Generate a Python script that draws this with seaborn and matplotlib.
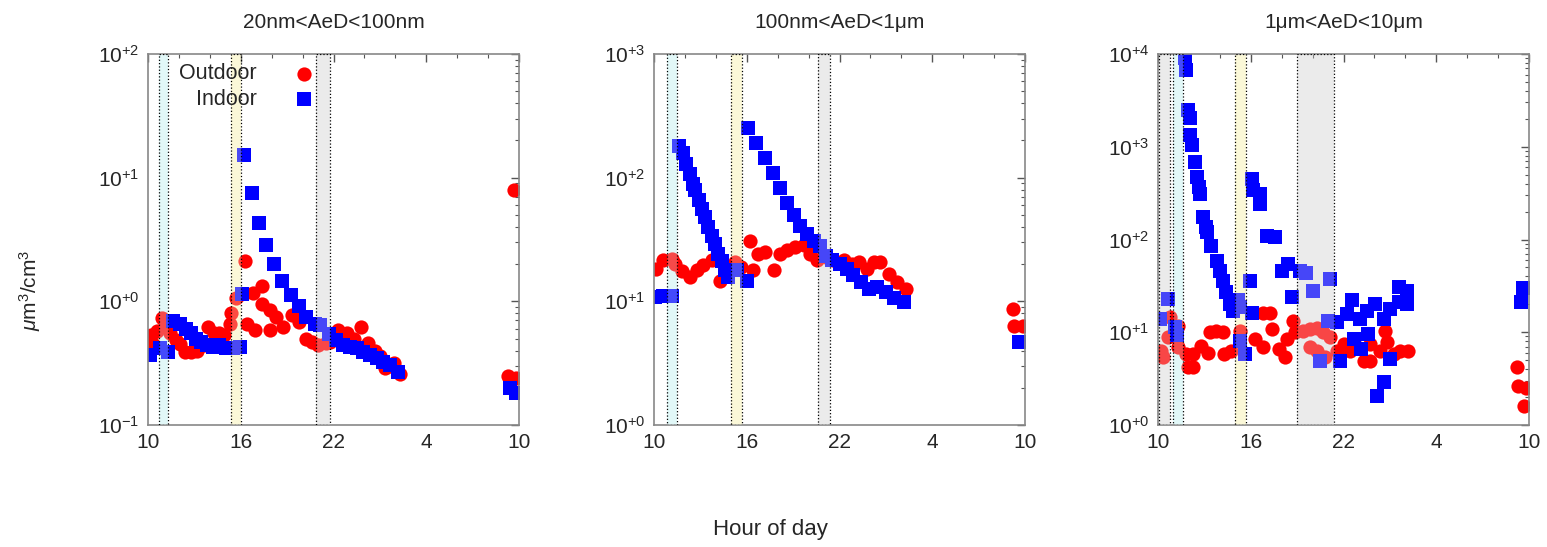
import math
import matplotlib
matplotlib.use('Agg')
import matplotlib.pyplot as plt
import matplotlib.ticker as mticker
import seaborn as sns

# ---- data (hours counted from 10:00 day 1, so 34 = 10:00 next day) ----
titles = ['20nm<AeD<100nm', '100nm<AeD<1\u03bcm', '1\u03bcm<AeD<10\u03bcm']
ylims = [(1e-1, 1e2), (1e0, 1e3), (1e0, 1e4)]
tick_hours = [10, 16, 22, 28, 34]
tick_labels = ['10', '16', '22', '4', '10']

# panel 1: 20nm-100nm
p1_out_hour = [10.2, 10.3, 10.6, 10.9, 11.2, 11.4, 11.8, 12.1, 12.4, 12.8, 13.2, 13.6, 13.9,
               14.3, 14.6, 14.9, 15.3, 15.4, 15.7, 16.0, 16.3, 16.4, 16.8, 16.9, 17.35, 17.4,
               17.9, 17.9, 18.3, 18.75, 19.3, 19.8, 20.25, 20.6, 21.0, 21.5, 21.8, 22.3, 22.85,
               23.3, 23.8, 24.25, 24.7, 25.0, 25.3, 25.6, 25.9, 26.3, 33.3, 33.8, 33.7]
p1_out_val = [0.53, 0.45, 0.58, 0.73, 0.62, 0.55, 0.49, 0.45, 0.39, 0.39, 0.40, 0.44, 0.62,
              0.55, 0.55, 0.53, 0.66, 0.80, 1.06, 1.15, 2.1, 0.66, 1.16, 0.59, 1.32, 0.96,
              0.85, 0.59, 0.75, 0.62, 0.78, 0.68, 0.50, 0.47, 0.44, 0.46, 0.47, 0.59, 0.55,
              0.50, 0.62, 0.46, 0.40, 0.36, 0.29, 0.30, 0.32, 0.26, 0.25, 0.24, 7.9]
p1_in_hour = [10.15, 10.8, 11.3, 11.6, 12.05, 12.45, 12.8, 13.1, 13.45, 13.8, 14.2, 14.6, 15.07,
              15.5, 15.95, 16.1, 16.2, 16.75, 17.2, 17.65, 18.15, 18.7, 19.25, 19.8, 20.25, 20.8,
              21.15, 21.7, 22.15, 22.6, 23.05, 23.5, 23.9, 24.35, 24.8, 25.2, 25.65, 26.2, 33.4, 33.8]
p1_in_val = [0.37, 0.42, 0.39, 0.69, 0.66, 0.60, 0.55, 0.50, 0.47, 0.44, 0.43, 0.44, 0.42,
             0.42, 0.43, 1.15, 15.2, 7.5, 4.3, 2.86, 1.99, 1.47, 1.12, 0.91, 0.75, 0.66,
             0.64, 0.54, 0.49, 0.44, 0.43, 0.42, 0.39, 0.37, 0.35, 0.325, 0.305, 0.27, 0.20, 0.18]

# panel 2: 100nm-1um
p2_out_hour = [10.13, 10.6, 11.15, 11.36, 11.8, 12.33, 12.77, 13.2, 13.74, 14.28, 14.6, 15.25,
               15.6, 16.23, 16.4, 16.76, 17.2, 17.74, 18.17, 18.6, 19.15, 19.7, 20.1, 20.55,
               21.1, 21.6, 22.3, 22.8, 23.25, 23.8, 24.2, 24.65, 25.2, 25.7, 26.3,
               33.2, 33.3, 33.85]
p2_out_val = [18.2, 21.5, 22, 20, 17.7, 15.7, 17.8, 19.5, 21.5, 14.7, 17.8, 20.7,
              18.9, 31, 17.8, 24.2, 25, 17.8, 24.2, 25.8, 27.5, 28.3, 24.2, 21.5,
              22.7, 21.5, 21.5, 20, 20.7, 18.2, 20.7, 20.7, 16.6, 14.3, 12.6,
              8.7, 6.3, 6.3]
p2_in_hour = [10.06, 10.6, 11.15, 11.64, 11.9, 12.1, 12.3, 12.5, 12.66, 12.9, 13.1, 13.3, 13.5,
              13.75, 13.96, 14.17, 14.4, 14.6, 14.8, 15.36, 16.0,
              16.1, 16.6, 17.2, 17.7, 18.13, 18.6, 19.04, 19.47, 19.9, 20.34, 20.77, 21.1,
              21.5, 22.06, 22.5, 22.9, 23.36, 23.9, 24.4, 24.98, 25.5, 26.2, 33.6]
p2_in_val = [10.8, 11, 11, 180, 157, 130, 107, 89, 79, 66, 56, 48, 40,
             34, 29, 24, 21, 17.8, 15.7, 17.8, 14.7,
             254, 189, 143, 109, 82, 62, 50, 41, 35, 31, 28, 23.4,
             21.4, 20, 18.2, 16.2, 14.3, 12.6, 13, 11.8, 10.7, 9.8, 4.66]

# panel 3: 1um-10um
p3_out_hour = [10.2, 10.3, 10.76, 10.65, 11.3, 11.3, 11.84, 12.27, 11.95, 12.27, 12.8, 13.24,
               13.35, 13.78, 14.2, 14.3, 14.75, 15.3, 16.27, 16.8, 16.8, 17.24, 17.35, 17.8,
               18.2, 18.32, 18.76, 18.87, 19.4, 19.84, 20.27, 20.7, 21.1, 19.84, 20.27, 20.8,
               21.57, 22.0, 22.43, 22.86, 23.3, 23.73, 23.73, 24.38, 24.7, 24.8, 25.24, 25.68,
               26.2, 33.2, 33.26, 33.8, 33.65]
p3_out_val = [6.3, 5.4, 14.5, 8.8, 11.7, 6.9, 5.8, 5.8, 4.2, 4.2, 7.1, 6.0,
              10, 10.4, 10, 5.8, 6.3, 10.4, 8.4, 6.9, 16.2, 16.2, 10.8, 6.6,
              5.4, 8.4, 13.3, 10, 10.4, 10.8, 11.2, 10, 8.8, 6.9, 6.3, 5.4,
              6.3, 7.4, 6.3, 6.9, 4.9, 4.9, 7.4, 6.3, 10.4, 7.8, 5.8, 6.3,
              6.3, 4.2, 2.63, 2.5, 1.6]
p3_in_hour = [10.1, 10.65, 11.08, 11.2, 11.73, 11.8, 11.95, 12.05, 12.05, 12.2, 12.4, 12.5,
              12.65, 12.7, 12.9, 13.1, 13.2, 13.46, 13.8, 14.0, 14.2, 14.43, 14.65, 14.85,
              15.2, 15.3, 15.3, 15.6, 15.95, 16.05, 16.05, 16.16, 16.6, 16.6, 17.03, 17.57,
              18.0, 18.43, 18.65, 19.2, 19.6, 20.05, 20.5, 21.0, 21.1, 21.57, 21.8, 22.2,
              22.54, 22.65, 23.05, 23.1, 23.5, 23.6, 24.05, 24.15, 24.6, 24.6, 25.0, 25.0,
              25.57, 25.57, 26.1, 26.1, 33.5, 33.6]
p3_in_val = [13.9, 22.9, 11.5, 9.4, 9000, 6800, 2480, 2020, 1330, 1040, 686, 470,
             368, 310, 174, 135, 120, 86, 59, 46, 36, 27, 20, 17,
             22, 18.7, 8.1, 5.8, 36, 453, 16.3, 340, 312, 243, 110, 106,
             46, 55, 24, 46, 43, 28, 4.9, 13.3, 37.6, 12.8, 4.9, 15.7,
             22, 8.4, 13.8, 6.6, 17, 9.5, 20, 2.06, 13.8, 2.9, 17.8, 5.1,
             30.5, 21, 28, 20, 21, 30]

# shaded periods per panel: (start hour, end hour, colour)
bands = [
    [(10.7, 11.3, '#e2f8f8'), (15.4, 16.0, '#fbf8d8'), (20.9, 21.8, '#ebebeb')],
    [(10.85, 11.5, '#e2f8f8'), (15.0, 15.7, '#fbf8d8'), (20.6, 21.4, '#ebebeb')],
    [(10.05, 10.8, '#ebebeb'), (11.0, 11.6, '#e2f8f8'), (15.0, 15.7, '#fbf8d8'),
     (19.0, 21.4, '#ebebeb')],
]

panels = [(p1_out_hour, p1_out_val, p1_in_hour, p1_in_val),
          (p2_out_hour, p2_out_val, p2_in_hour, p2_in_val),
          (p3_out_hour, p3_out_val, p3_in_hour, p3_in_val)]

sns.set_style('white')
plt.rcParams['font.family'] = ['Liberation Sans', 'DejaVu Sans']
plt.rcParams['mathtext.fontset'] = 'custom'
plt.rcParams['mathtext.rm'] = 'Liberation Sans'
plt.rcParams['mathtext.it'] = 'Liberation Sans:italic'

fig = plt.figure(figsize=(15.47, 5.47), dpi=100)
lefts = [148, 654, 1158]
W, H = 1547, 547

for i, (oh, ov, ih, iv) in enumerate(panels):
    ax = fig.add_axes([lefts[i] / W, 122 / H, 371 / W, 371 / H])
    # band fill under the markers, faint tint + dotted frame over them
    for x0, x1, c in bands[i]:
        ax.axvspan(x0, x1, facecolor=c, edgecolor='none', zorder=0)
    sns.scatterplot(x=oh, y=ov, ax=ax, color='#ff0000', marker='o', s=105,
                    linewidth=0, label='Outdoor', zorder=2)
    sns.scatterplot(x=ih, y=iv, ax=ax, color='#0000ff', marker='s', s=105,
                    linewidth=0, label='Indoor', zorder=2)
    for x0, x1, c in bands[i]:
        ax.axvspan(x0, x1, facecolor=matplotlib.colors.to_rgba(c, 0.3),
                   edgecolor='black', linestyle=':', linewidth=0.9, zorder=3)
    ax.set_yscale('log')
    ax.set_ylim(*ylims[i])
    ax.set_xlim(10, 34)
    ax.set_xticks(tick_hours)
    ax.set_xticklabels(tick_labels)
    ax.xaxis.set_minor_locator(mticker.MultipleLocator(2))
    ax.yaxis.set_major_locator(mticker.LogLocator(base=10, numticks=10))
    ax.yaxis.set_minor_locator(mticker.LogLocator(base=10, subs=range(2, 10), numticks=20))
    ax.yaxis.set_minor_formatter(mticker.NullFormatter())
    ax.yaxis.set_major_formatter(mticker.FuncFormatter(
        lambda v, _: r'$10^{%+d}$' % round(math.log10(v))))
    ax.tick_params(which='both', direction='in', top=True, right=True,
                   color='#555555', labelsize=15, pad=6)
    ax.tick_params(which='major', length=6, width=1)
    ax.tick_params(which='minor', length=3, width=0.8)
    for sp in ax.spines.values():
        sp.set_color('#888888')
        sp.set_linewidth(1.2)
    ax.set_title(titles[i], fontsize=15, pad=19)
    ax.set_xlabel('')
    ax.set_ylabel('')
    if i == 0:
        ax.legend(loc='upper right', bbox_to_anchor=(0.49, 1.01), frameon=False,
                  markerfirst=False, fontsize=15.5, handletextpad=1.6,
                  handlelength=1.2, labelspacing=0.2, borderaxespad=0.2)
    else:
        ax.get_legend().remove()

fig.text(30 / W, 1 - 290 / H, r'$\mu$m$^3$/cm$^3$', rotation=90, ha='center',
         va='center', fontsize=15)
fig.text(770 / W, 1 - 530 / H, 'Hour of day', ha='center', va='center', fontsize=16)

fig.savefig('out.png', dpi=100)
